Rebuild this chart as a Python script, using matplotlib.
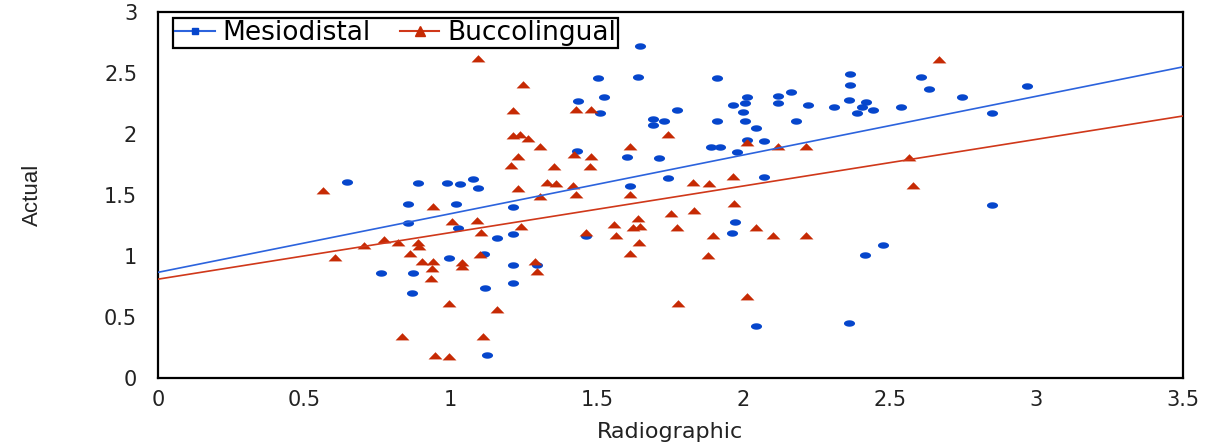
import matplotlib as mpl
import matplotlib.pyplot as plt
import numpy as np
from matplotlib.lines import Line2D

params = {
    "font.family": "DejaVu Sans",
    "font.size": 15,
    "axes.linewidth": 1.6,
}
mpl.rcParams.update(params)

# Mesiodistal (radiographic, actual)
md_x = [0.645, 0.888, 0.987, 1.031, 1.075, 1.093, 0.853, 1.017, 0.853, 1.024,
        1.157, 1.113, 0.994, 0.761, 0.871, 0.867, 1.116, 1.123, 1.502, 1.639,
        1.908, 1.645, 1.523, 1.434, 1.509, 1.772, 1.963, 2.004, 2.011, 1.997,
        2.117, 2.161, 2.117, 2.180, 1.690, 1.728, 1.690, 1.908, 2.004, 2.042,
        1.431, 1.601, 1.710, 1.890, 1.920, 2.011, 2.069, 1.977, 1.611, 1.741,
        2.069, 1.212, 1.212, 1.461, 1.970, 1.960, 2.042, 1.212, 1.294, 1.212,
        2.363, 2.363, 2.605, 2.632, 2.967, 2.745, 2.219, 2.308, 2.359, 2.417,
        2.403, 2.386, 2.441, 2.537, 2.847, 2.847, 2.475, 2.414, 2.359]
md_y = [1.61, 1.60, 1.60, 1.59, 1.63, 1.56, 1.43, 1.43, 1.27, 1.23,
        1.15, 1.02, 0.98, 0.86, 0.86, 0.70, 0.74, 0.19, 2.46, 2.47,
        2.46, 2.72, 2.30, 2.27, 2.17, 2.20, 2.24, 2.25, 2.30, 2.18,
        2.31, 2.34, 2.25, 2.11, 2.12, 2.11, 2.07, 2.11, 2.11, 2.05,
        1.86, 1.81, 1.80, 1.89, 1.89, 1.95, 1.94, 1.85, 1.57, 1.64,
        1.65, 1.40, 1.18, 1.16, 1.28, 1.19, 0.43, 0.93, 0.93, 0.78,
        2.49, 2.40, 2.47, 2.37, 2.39, 2.30, 2.24, 2.22, 2.28, 2.26,
        2.22, 2.17, 2.20, 2.22, 2.17, 1.42, 1.09, 1.01, 0.45]

# Buccolingual (radiographic, actual)
bl_x = [1.093, 0.563, 0.939, 1.004, 1.089, 1.103, 0.772, 0.819, 0.888, 0.891,
        0.703, 0.604, 0.860, 1.099, 0.901, 0.939, 1.038, 1.038, 0.935, 0.932,
        0.994, 1.157, 0.833, 1.110, 0.946, 0.994, 1.246, 1.212, 1.427, 1.478,
        1.741, 1.212, 1.236, 1.263, 1.304, 1.420, 1.611, 2.011, 2.117, 1.229,
        1.205, 1.352, 1.478, 1.475, 1.229, 1.328, 1.359, 1.417, 1.427, 1.611,
        1.827, 1.881, 1.963, 1.304, 1.239, 1.461, 1.557, 1.564, 1.622, 1.639,
        1.645, 1.642, 1.611, 1.751, 1.830, 1.772, 1.967, 2.042, 1.895, 2.100,
        1.878, 1.775, 2.011, 2.212, 1.287, 1.294, 2.666, 2.212, 2.564, 2.578]
bl_y = [2.615, 1.53, 1.40, 1.28, 1.29, 1.19, 1.13, 1.11, 1.11, 1.07,
        1.08, 0.98, 1.02, 1.01, 0.95, 0.95, 0.94, 0.91, 0.89, 0.81,
        0.61, 0.56, 0.34, 0.34, 0.18, 0.17, 2.40, 2.19, 2.20, 2.20,
        1.99, 1.98, 1.99, 1.96, 1.89, 1.83, 1.89, 1.93, 1.89, 1.81,
        1.74, 1.73, 1.81, 1.73, 1.55, 1.60, 1.59, 1.57, 1.50, 1.50,
        1.60, 1.59, 1.65, 1.48, 1.24, 1.19, 1.25, 1.16, 1.23, 1.30,
        1.24, 1.11, 1.02, 1.34, 1.37, 1.23, 1.43, 1.23, 1.16, 1.16,
        1.00, 0.61, 0.66, 1.16, 0.95, 0.87, 2.61, 1.89, 1.80, 1.57]

# linear trendlines: (intercept, slope)
md_fit = (0.866, 0.481)
bl_fit = (0.810, 0.382)

blue = "#0646cc"
red = "#c62a04"
blue_line = "#2c63dd"
red_line = "#d0381a"

t = np.linspace(0, 2 * np.pi, 30)
ellipse = np.column_stack([np.cos(t), 0.58 * np.sin(t)])
tri = [(-1, -0.42), (1, -0.42), (0, 0.62), (-1, -0.42)]

fig = plt.figure(figsize=(12.12, 4.45), dpi=100)
ax = fig.add_axes([0.1304, 0.1506, 0.8454, 0.8225])

ax.scatter(md_x, md_y, marker=ellipse, s=8**2, color=blue, lw=0, zorder=3)
ax.scatter(bl_x, bl_y, marker=tri, s=10**2, color=red, lw=0, zorder=3)

xs = np.array([0, 3.5])
ax.plot(xs, md_fit[0] + md_fit[1] * xs, color=blue_line, lw=1.2, zorder=4)
ax.plot(xs, bl_fit[0] + bl_fit[1] * xs, color=red_line, lw=1.2, zorder=4)

ax.set_xlim(0, 3.5)
ax.set_ylim(0, 3)
ax.set_xticks(np.arange(0, 3.51, 0.5))
ax.set_yticks(np.arange(0, 3.01, 0.5))
ax.set_xticklabels(["0", "0.5", "1", "1.5", "2", "2.5", "3", "3.5"])
ax.set_yticklabels(["0", "0.5", "1", "1.5", "2", "2.5", "3"])
ax.tick_params(axis="x", length=0, pad=9, colors="#222222", labelsize=15)
ax.tick_params(axis="y", length=0, pad=15, colors="#222222", labelsize=15)
for s in ax.spines.values():
    s.set_color("black")

ax.set_xlabel("Radiographic", fontsize=16, color="#222222", labelpad=8)
ax.set_ylabel("Actual", fontsize=16, color="#222222", labelpad=44,
              family=["Liberation Sans Narrow", "Liberation Sans"])

handles = [
    Line2D([], [], color=blue_line, lw=1.5, marker="s", ms=5, mfc=blue, mec=blue),
    Line2D([], [], color=red_line, lw=1.5, marker="^", ms=7, mfc=red, mec=red),
]
leg = ax.legend(handles, ["Mesiodistal", "Buccolingual"], loc="upper left",
                bbox_to_anchor=(0.0146, 0.984), borderaxespad=0, ncol=2,
                fontsize=19, frameon=True, fancybox=False, borderpad=0.08,
                handlelength=1.5, handletextpad=0.3, columnspacing=1.1)
leg.get_frame().set_edgecolor("black")
leg.get_frame().set_linewidth(1.6)
leg.get_frame().set_alpha(1)

plt.savefig("out.png", dpi=100)
